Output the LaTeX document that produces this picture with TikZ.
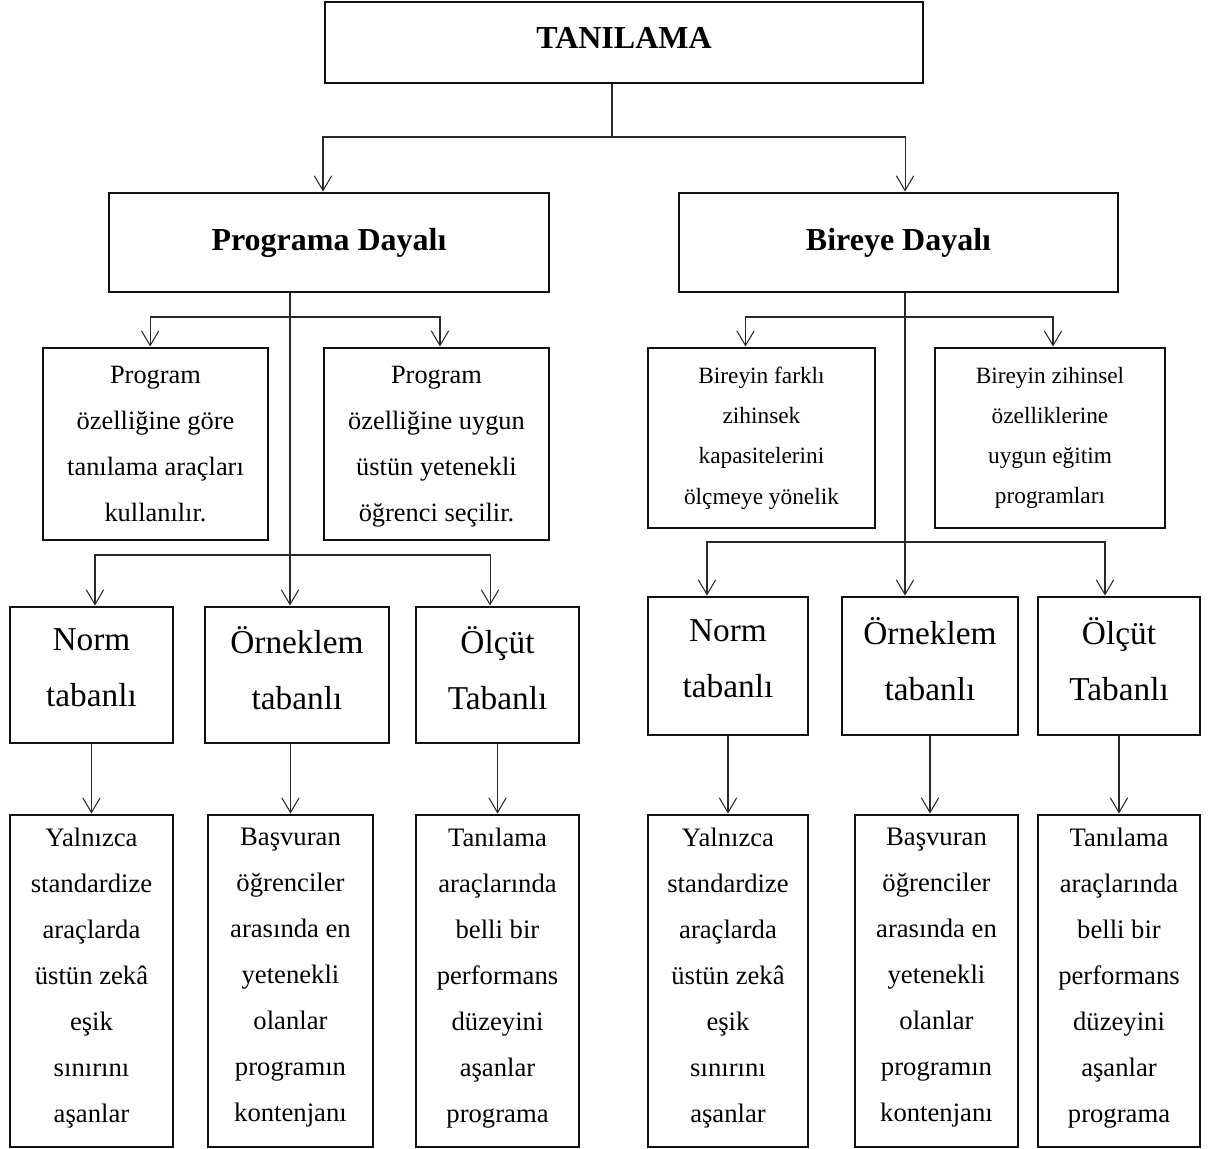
\documentclass[tikz,border=0pt]{standalone}
\usepackage{fontspec}
\setmainfont{Liberation Serif}
\usepackage{tikz}
\usetikzlibrary{arrows.meta}
\definecolor{boxLine}{HTML}{111111}
\definecolor{linkLine}{HTML}{2A2A2A}
\tikzset{
    headBox/.style={draw=boxLine, line width=2.2pt, inner sep=0pt, align=center,
                    text depth=7.5pt, font=\fontsize{24}{29}\selectfont\bfseries},
    typeBox/.style={draw=boxLine, line width=2.2pt, inner sep=0pt, align=center,
                    font=\fontsize{24}{29}\selectfont\bfseries},
    selBox/.style={draw=boxLine, line width=2.2pt, inner sep=0pt, align=center,
                   text depth=0pt, font=\fontsize{19.8}{34.5}\selectfont},
    selBoxSmall/.style={draw=boxLine, line width=2.2pt, inner sep=0pt, align=center,
                        font=\fontsize{17.5}{30.2}\selectfont},
    baseBox/.style={draw=boxLine, line width=2.2pt, inner sep=0pt, align=center,
                    text depth=11pt, font=\fontsize{25}{42}\selectfont},
    detailBox/.style={draw=boxLine, line width=2.2pt, inner sep=0pt, align=center,
                      text depth=9pt, font=\fontsize{20}{34.5}\selectfont},
    link/.style={draw=linkLine, line width=0.8pt},
    linkArr/.style={draw=linkLine, line width=0.8pt,
                    -{Straight Barb[length=11pt, width=13pt]}},
}

\begin{document}
\begin{tikzpicture}[x=0.75pt,y=-0.75pt]
\useasboundingbox (0,0) rectangle (1214,1149);

% ---------------- ROOT ----------------
\node[headBox, minimum width=448.5pt, minimum height=60.75pt] (root) at (624,42.5) {TANILAMA};

\node[typeBox, minimum width=330pt, minimum height=74.25pt] (pType) at (329,242.5) {Programa Dayalı};
\node[typeBox, minimum width=329.25pt, minimum height=74.25pt] (bType) at (898.5,242.5) {Bireye Dayalı};

% root -> both approaches
\coordinate (rootJoin) at (612,137);
\draw[link] (root.south -| rootJoin) -- (rootJoin);
\draw[linkArr] (rootJoin) -| ([xshift=-4.5pt]pType.north);
\draw[linkArr] (rootJoin) -| ([xshift=4.9pt]bType.north);

% ---------------- PROGRAMA DAYALI ----------------
\node[selBox, minimum width=168.75pt, minimum height=144pt] (pSel1) at (155.5,444)
     {Program\\özelliğine göre\\tanılama araçları\\kullanılır.};
\node[selBox, minimum width=168.75pt, minimum height=144pt] (pSel2) at (436.5,444)
     {Program\\özelliğine uygun\\üstün yetenekli\\öğrenci seçilir.};

\node[baseBox, minimum width=122.25pt, minimum height=102pt] (pNorm) at (91.5,675) {Norm\\tabanlı};
\node[baseBox, minimum width=138pt, minimum height=102pt] (pOrn) at (297,675) {Örneklem\\tabanlı};
\node[baseBox, minimum width=122.25pt, minimum height=102pt] (pOlc) at (497.5,675) {Ölçüt\\Tabanlı};

\node[detailBox, minimum width=122.25pt, minimum height=249pt] (pNormD) at (91.5,981)
     {Yalnızca\\standardize\\araçlarda\\üstün zekâ\\eşik\\sınırını\\aşanlar};
\node[detailBox, minimum width=123.75pt, minimum height=249pt] (pOrnD) at (290.5,981)
     {Başvuran\\öğrenciler\\arasında en\\yetenekli\\olanlar\\programın\\kontenjanı};
\node[detailBox, minimum width=122.25pt, minimum height=249pt] (pOlcD) at (497.5,981)
     {Tanılama\\araçlarında\\belli bir\\performans\\düzeyini\\aşanlar\\programa};

% t1: stem through to the sample-based box
\coordinate (pJoin) at (290,317);
\coordinate (pJoinB) at (290,555);
\draw[linkArr] (pType.south -| pJoin) -- (pOrn.north -| pJoin);
\draw[linkArr] (pJoin) -| ([xshift=-4pt]pSel1.north);
\draw[linkArr] (pJoin) -| ([xshift=2.6pt]pSel2.north);
% t2: branches to norm / criterion
\draw[linkArr] (pJoinB) -| ([xshift=2.6pt]pNorm.north);
\draw[linkArr] (pJoinB) -| ([xshift=-5.6pt]pOlc.north);
% t3: down to details
\draw[linkArr] (pNorm.south) -- (pNormD.north);
\draw[linkArr] (pOrnD.north |- pOrn.south) -- (pOrnD.north);
\draw[linkArr] (pOlc.south) -- (pOlcD.north);

% ---------------- BIREYE DAYALI ----------------
\node[selBoxSmall, minimum width=170.25pt, minimum height=135pt] (bSel1) at (761.5,438)
     {Bireyin farklı\\zihinsek\\kapasitelerini\\ölçmeye yönelik};
\node[selBoxSmall, minimum width=172.5pt, minimum height=135pt] (bSel2) at (1050,438)
     {Bireyin zihinsel\\özelliklerine\\uygun eğitim\\programları};

\node[baseBox, minimum width=120pt, minimum height=103.5pt] (bNorm) at (728,666) {Norm\\tabanlı};
\node[baseBox, minimum width=132pt, minimum height=103.5pt] (bOrn) at (930,666) {Örneklem\\tabanlı};
\node[baseBox, minimum width=121.5pt, minimum height=103.5pt] (bOlc) at (1119,666) {Ölçüt\\Tabanlı};

\node[detailBox, minimum width=120pt, minimum height=249pt] (bNormD) at (728,981)
     {Yalnızca\\standardize\\araçlarda\\üstün zekâ\\eşik\\sınırını\\aşanlar};
\node[detailBox, minimum width=122.25pt, minimum height=249pt] (bOrnD) at (936.5,981)
     {Başvuran\\öğrenciler\\arasında en\\yetenekli\\olanlar\\programın\\kontenjanı};
\node[detailBox, minimum width=121.5pt, minimum height=249pt] (bOlcD) at (1119,981)
     {Tanılama\\araçlarında\\belli bir\\performans\\düzeyini\\aşanlar\\programa};

% t1: stem through to the sample-based box
\coordinate (bJoin) at (905,317);
\coordinate (bJoinB) at (905,542);
\draw[linkArr] (bType.south -| bJoin) -- (bOrn.north -| bJoin);
\draw[linkArr] (bJoin) -| ([xshift=-12pt]bSel1.north);
\draw[linkArr] (bJoin) -| ([xshift=2.25pt]bSel2.north);
% t2: branches to norm / criterion
\draw[linkArr] (bJoinB) -| ([xshift=-15.75pt]bNorm.north);
\draw[linkArr] (bJoinB) -| ([xshift=-10.5pt]bOlc.north);
% t3: down to details
\draw[linkArr] (bNorm.south) -- (bNormD.north);
\draw[linkArr] (bOrn.south) -- (bOrn.south |- bOrnD.north);
\draw[linkArr] (bOlc.south) -- (bOlcD.north);

\end{tikzpicture}
\end{document}
